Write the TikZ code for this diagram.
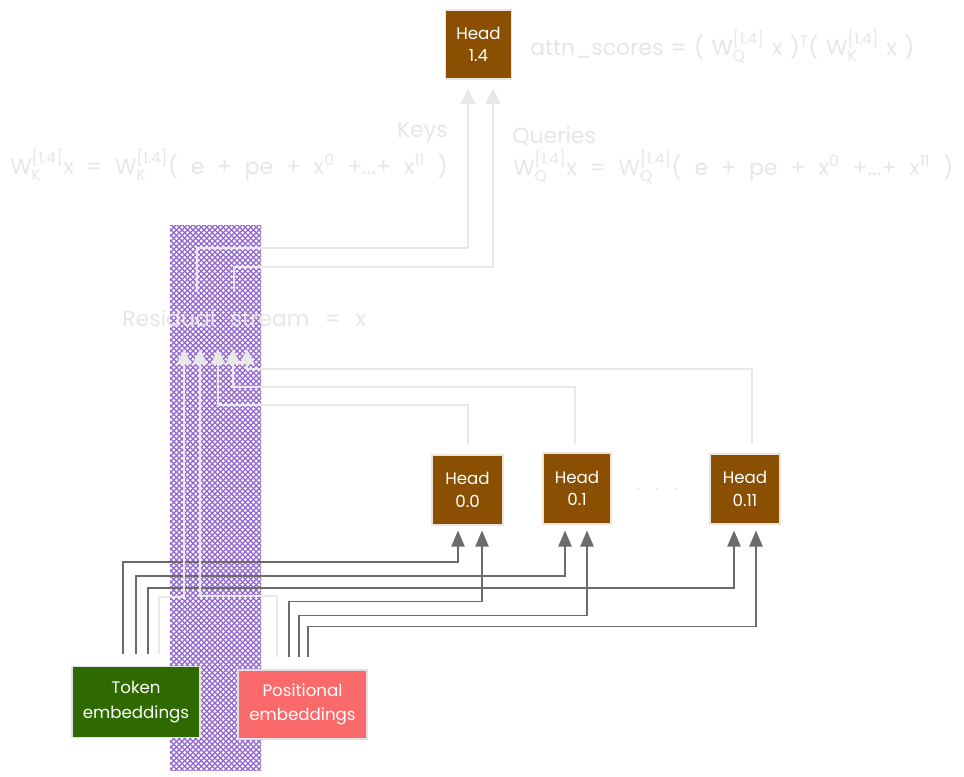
\documentclass[tikz,border=0pt]{standalone}
\usepackage{amsmath}
\usepackage{fontspec}
\setmainfont{Poppins}
\usetikzlibrary{arrows.meta,calc}

\definecolor{headbrown}{RGB}{138,79,0}
\definecolor{tokgreen}{RGB}{46,106,0}
\definecolor{posred}{RGB}{250,106,106}
\definecolor{faint}{RGB}{232,232,232}
\definecolor{fainttext}{RGB}{230,230,230}
\definecolor{wire}{RGB}{108,108,108}
\definecolor{hatchpurple}{RGB}{146,100,210}

\newcommand\wmat[1]{W$_{\text{#1}}^{\text{[1.4]}}$}
\newcommand\xpow[1]{x$^{\text{#1}}$}

\tikzset{
  headbox/.style={fill=headbrown, draw=white!85!headbrown, line width=0.8pt,
    text=white, align=center, inner sep=0pt,
    font=\fontsize{12.5}{17}\selectfont},
  embbox/.style={draw=white!88!black, line width=0.8pt, text=white,
    align=center, inner sep=0pt, font=\fontsize{12.5}{18.5}\selectfont},
  faintwire/.style={draw=faint, line width=1.5pt,
    -{Triangle[width=11pt,length=11.5pt]}},
  darkwire/.style={draw=wire, line width=0.9pt,
    -{Triangle[width=10pt,length=12pt]}},
  faintlabel/.style={text=fainttext, inner sep=0pt,
    font=\fontsize{16.5}{19}\selectfont},
  hatchline/.style={draw=hatchpurple, line width=0.85pt},
}

\begin{document}
\begin{tikzpicture}[x=0.75pt,y=-0.75pt]
\useasboundingbox (0,0) rectangle (964,777);

% residual stream band, cross-hatched
\begin{scope}
  \clip (170,226) rectangle (261,770);
  \foreach \c in {-40,-34.5,...,605}
    \draw[hatchline] (165,{165+\c}) -- (266,{266+\c});
  \foreach \d in {390,395.5,...,1036}
    \draw[hatchline] (165,{\d-165}) -- (266,{\d-266});
\end{scope}

% labels
\node[faintlabel, anchor=west] (attn) at (530,47)
  {\makebox[288pt][s]{attn\_scores = ( \wmat{Q} x )$^{\text{T}}$( \wmat{K} x )}};
\node[faintlabel, anchor=east] (keys) at (448,133) {Keys};
\node[faintlabel, anchor=west] (kform) at (10,165)
  {\makebox[328pt][s]{\wmat{K}x = \wmat{K}( e + pe + \xpow{0} +...+ \xpow{11} )}};
\node[faintlabel, anchor=west] (queries) at (512,137) {Queries};
\node[faintlabel, anchor=west] (qform) at (513,167)
  {\makebox[330pt][s]{\wmat{Q}x = \wmat{Q}( e + pe + \xpow{0} +...+ \xpow{11} )}};
\node[faintlabel, anchor=west] (resid) at (122,318)
  {\makebox[183pt][s]{Residual stream = x}};

% attention heads
\node[headbox, minimum width=49.5pt, minimum height=51.75pt] (h14) at (478.5,44.5) {Head\\1.4};
\node[headbox, minimum width=53.25pt, minimum height=52.5pt] (h00) at (467.5,490) {Head\\0.0};
\node[headbox, minimum width=51pt, minimum height=53.25pt] (h01) at (577,488.5) {Head\\0.1};
\node[headbox, minimum width=52.5pt, minimum height=52.5pt] (h011) at (745,489) {Head\\0.11};
\foreach \px/\nm in {638/d1,657/d2,676/d3}
  \fill[faint] (\px,489) circle (1.4) coordinate (\nm);

% embeddings
\node[embbox, fill=tokgreen, minimum width=96pt, minimum height=53.25pt] (tok) at (136,702) {Token\\embeddings};
\node[embbox, fill=posred, minimum width=96.75pt, minimum height=51.75pt] (pos) at (302.5,704.5) {Positional\\embeddings};

% where writes land on the residual stream, and where reads leave it
\coordinate (r1) at (184,349);
\coordinate (r2) at (200,349);
\coordinate (r3) at (218,349);
\coordinate (r4) at (233,349);
\coordinate (r5) at (247,349);
\coordinate (k0) at (197,292);
\coordinate (q0) at (234,292);

% token embeddings -> layer 0 heads
\draw[darkwire] ($(tok.north)+(-13,-12)$) -- ++(0,-92) -| ($(h00.south)+(-9.5,5)$);
\draw[darkwire] ($(tok.north)+(0,-12)$) -- ++(0,-78) -| ($(h01.south)+(-12,6)$);
\draw[darkwire] ($(tok.north)+(12,-12)$) -- ++(0,-66) -| ($(h011.south)+(-11,6)$);
% positional embeddings -> layer 0 heads
\draw[darkwire] ($(pos.north)+(-13.5,-12)$) -- ++(0,-56) -| ($(h00.south)+(14.5,5)$);
\draw[darkwire] ($(pos.north)+(-3.5,-12)$) -- ++(0,-42) -| ($(h01.south)+(10,6)$);
\draw[darkwire] ($(pos.north)+(5.5,-12)$) -- ++(0,-31) -| ($(h011.south)+(11,6)$);

% writes into the residual stream
\draw[faintwire] ($(tok.north)+(23,-12)$) -- ++(0,-57) -| (r1);
\draw[faintwire] ($(pos.north)+(-25.5,-12)$) -- ++(0,-61) -| (r2);
\draw[faintwire] ($(h00.north)+(0.5,-10)$) -- ++(0,-39) -| (r3);
\draw[faintwire] ($(h01.north)+(-2,-8)$) -- ++(0,-57) -| (r4);
\draw[faintwire] ($(h011.north)+(7,-9)$) -- ++(0,-75) -| (r5);

% keys and queries read by head 1.4
\draw[faintwire] (k0) -- ++(0,-44) -| ($(h14.south)+(-10.5,9)$);
\draw[faintwire] (q0) -- ++(0,-25) -| ($(h14.south)+(14.5,9)$);
\end{tikzpicture}
\end{document}
